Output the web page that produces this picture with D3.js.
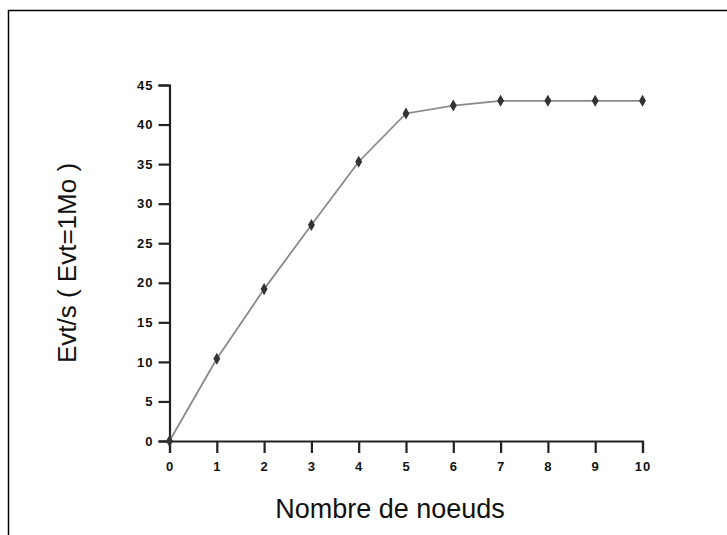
<!DOCTYPE html>
<html>
<head>
<meta charset="utf-8">
<script src="https://cdn.jsdelivr.net/npm/d3@7"></script>
<style>
  body { margin: 0; background: #fff; }
  svg { display: block; }
  .axis text { font-family: 'Liberation Sans', Arial, sans-serif; font-size: 13px; font-weight: bold; letter-spacing: 1px; fill: #111; }
  .axis path, .axis line { stroke: #222; stroke-width: 2.2px; }
</style>
</head>
<body>
<div id="chart"></div>
<script>
// nodes vs events per second
var noeuds = [0, 1, 2, 3, 4, 5, 6, 7, 8, 9, 10];
var evtParSec = [0, 10.4, 19.2, 27.3, 35.3, 41.4, 42.4, 43.0, 43.0, 43.0, 43.0];
var yTicks = [0, 5, 10, 15, 20, 25, 30, 35, 40, 45];
var xTicks = [0, 1, 2, 3, 4, 5, 6, 7, 8, 9, 10];

var W = 727, H = 535;
var x0 = 169.5, x1 = 642.5, y0 = 441, y1 = 85;

var svg = d3.select("#chart").append("svg")
    .attr("width", W)
    .attr("height", H);

// frame (only top and left edges visible)
svg.append("path")
    .attr("d", "M8.5," + H + " V10.5 H" + W)
    .attr("fill", "none")
    .attr("stroke", "#000")
    .attr("stroke-width", 1.5);

var xScale = d3.scaleLinear().domain([0, 10]).range([x0, x1]);
var yScale = d3.scaleLinear().domain([0, 45]).range([y0, y1]);

var xAxis = d3.axisBottom(xScale).tickValues(xTicks).tickSize(12).tickPadding(9).tickFormat(d3.format("d"));
var yAxis = d3.axisLeft(yScale).tickValues(yTicks).tickSize(11).tickPadding(5).tickFormat(d3.format("d"));

svg.append("g")
    .attr("class", "axis")
    .attr("transform", "translate(0," + y0 + ")")
    .call(xAxis)
    .attr("font-size", null)
    .attr("font-family", null);
svg.append("g")
    .attr("class", "axis")
    .attr("transform", "translate(" + x0 + ",0)")
    .call(yAxis)
    .attr("font-size", null)
    .attr("font-family", null);

var data = noeuds.map(function (n, i) { return [n, evtParSec[i]]; });

svg.append("path")
    .datum(data)
    .attr("fill", "none")
    .attr("stroke", "#8a8a8a")
    .attr("stroke-width", 1.8)
    .attr("d", d3.line()
        .x(function (d) { return xScale(d[0]); })
        .y(function (d) { return yScale(d[1]); }));

svg.selectAll(".pt")
    .data(data)
    .enter()
    .append("path")
    .attr("class", "pt")
    .attr("transform", function (d) {
        return "translate(" + xScale(d[0]) + "," + yScale(d[1]) + ")";
    })
    .attr("d", d3.symbol().type(d3.symbolDiamond).size(42))
    .attr("fill", "#333");

// axis titles
svg.append("text")
    .attr("x", 390)
    .attr("y", 518)
    .attr("text-anchor", "middle")
    .style("font-family", "'Liberation Sans', Arial, sans-serif")
    .style("font-size", "27px")
    .attr("fill", "#111")
    .text("Nombre de noeuds");

svg.append("text")
    .attr("transform", "translate(76,263) rotate(-90)")
    .attr("text-anchor", "middle")
    .style("font-family", "'Liberation Sans', Arial, sans-serif")
    .style("font-size", "26px")
    .attr("fill", "#111")
    .text("Evt/s ( Evt=1Mo )");
</script>
</body>
</html>
